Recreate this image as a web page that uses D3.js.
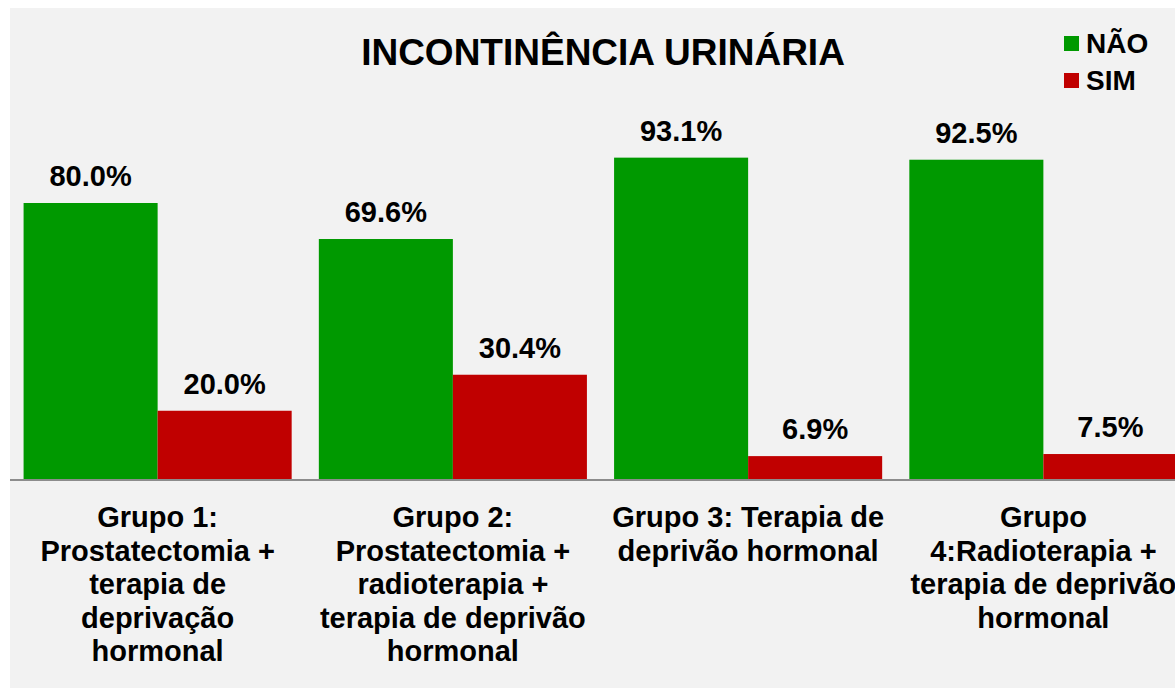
<!DOCTYPE html>
<html>
<head>
<meta charset="utf-8">
<script src="https://cdn.jsdelivr.net/npm/d3@7"></script>
<style>
  html, body { margin: 0; padding: 0; background: #fff; }
  svg { display: block; font-family: "Liberation Sans", Arial, sans-serif; }
</style>
</head>
<body>
<div id="chart"></div>
<script>
const groups = ["Grupo 1", "Grupo 2", "Grupo 3", "Grupo 4"];
const groupLabels = [
  ["Grupo 1:", "Prostatectomia +", "terapia de", "deprivação", "hormonal"],
  ["Grupo 2:", "Prostatectomia +", "radioterapia +", "terapia de deprivão", "hormonal"],
  ["Grupo 3: Terapia de", "deprivão hormonal"],
  ["Grupo", "4:Radioterapia +", "terapia de deprivão", "hormonal"]
];
const series = ["NÃO", "SIM"];
const naoValues = [80.0, 69.6, 93.1, 92.5];
const simValues = [20.0, 30.4, 6.9, 7.5];
const title = "INCONTINÊNCIA URINÁRIA";

const width = 1175;
const height = 688;
const color = d3.scaleOrdinal().domain(series).range(["#009900", "#c00000"]);

const svg = d3.select("#chart")
  .append("svg")
  .attr("width", width)
  .attr("height", height);

// fundo cinza
svg.append("rect")
  .attr("x", 10).attr("y", 8)
  .attr("width", width - 10).attr("height", height - 8)
  .attr("fill", "#f2f2f2");

const x0 = d3.scaleBand()
  .domain(groups)
  .range([10, 1191])
  .paddingInner(0.092)
  .paddingOuter(0.046);

const x1 = d3.scaleBand()
  .domain(series)
  .range([0, x0.bandwidth()]);

const y = d3.scaleLinear()
  .domain([0, 100])
  .range([480, 133.75]);

const rows = groups.map((g, i) => ({
  group: g,
  values: [
    { key: "NÃO", value: naoValues[i] },
    { key: "SIM", value: simValues[i] }
  ]
}));

const g = svg.selectAll("g.grp")
  .data(rows)
  .join("g")
  .attr("class", "grp")
  .attr("transform", d => `translate(${x0(d.group)},0)`);

g.selectAll("rect")
  .data(d => d.values)
  .join("rect")
  .attr("x", d => x1(d.key))
  .attr("y", d => y(d.value))
  .attr("width", x1.bandwidth())
  .attr("height", d => y(0) - y(d.value))
  .attr("fill", d => color(d.key));

g.selectAll("text.val")
  .data(d => d.values)
  .join("text")
  .attr("class", "val")
  .attr("x", d => x1(d.key) + x1.bandwidth() / 2)
  .attr("y", d => y(d.value) - 17)
  .attr("text-anchor", "middle")
  .style("font-size", "29px")
  .style("font-weight", "bold")
  .text(d => d.value.toFixed(1) + "%");

// eixo x
const xAxis = svg.append("g")
  .attr("transform", `translate(0,${y(0)})`)
  .call(d3.axisBottom(x0).tickSize(0).tickFormat(""));
xAxis.select(".domain")
  .attr("d", `M10,0H${width}`)
  .attr("stroke", "#8c8c8c")
  .attr("stroke-width", 2);

xAxis.selectAll(".tick text").remove();
xAxis.selectAll(".tick").each(function(d, i) {
  const t = d3.select(this).append("text")
    .attr("text-anchor", "middle")
    .attr("fill", "#000")
    .style("font-size", "29px")
    .style("font-weight", "bold");
  t.selectAll("tspan")
    .data(groupLabels[i])
    .join("tspan")
    .attr("x", 0)
    .attr("y", (l, j) => 47 + j * 33.5)
    .text(l => l);
});

// título
svg.append("text")
  .attr("x", 603)
  .attr("y", 65)
  .attr("text-anchor", "middle")
  .style("font-size", "37px")
  .style("font-weight", "bold")
  .text(title);

// legenda
const legend = svg.selectAll("g.leg")
  .data(series)
  .join("g")
  .attr("class", "leg")
  .attr("transform", (d, i) => `translate(1064,${36 + i * 37})`);

legend.append("rect")
  .attr("width", 15)
  .attr("height", 15)
  .attr("fill", d => color(d));

legend.append("text")
  .attr("x", 22)
  .attr("y", 17)
  .style("font-size", "28px")
  .style("font-weight", "bold")
  .text(d => d);
</script>
</body>
</html>
